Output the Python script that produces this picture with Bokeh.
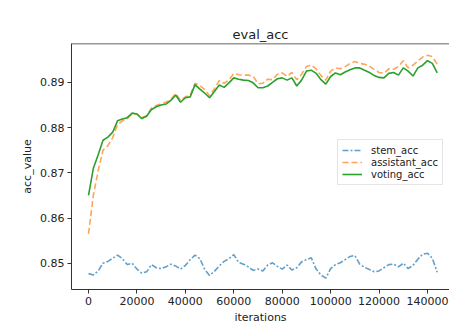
from bokeh.plotting import figure
from bokeh.models import (Range1d, FixedTicker, Legend, LegendItem, Span,
                          NumeralTickFormatter, BasicTickFormatter)
from bokeh.embed import file_html
from bokeh.resources import INLINE

iterations = [0, 2000, 4000, 6000, 8000, 10000, 12000, 14000, 16000, 18000,
              20000, 22000, 24000, 26000, 28000, 30000, 32000, 34000, 36000, 38000,
              40000, 42000, 44000, 46000, 48000, 50000, 52000, 54000, 56000, 58000,
              60000, 62000, 64000, 66000, 68000, 70000, 72000, 74000, 76000, 78000,
              80000, 82000, 84000, 86000, 88000, 90000, 92000, 94000, 96000, 98000,
              100000, 102000, 104000, 106000, 108000, 110000, 112000, 114000, 116000, 118000,
              120000, 122000, 124000, 126000, 128000, 130000, 132000, 134000, 136000, 138000,
              140000, 142000, 144000]

stem_acc = [0.8477, 0.8474, 0.8483, 0.8500, 0.8504, 0.8511, 0.8518, 0.8510, 0.8497, 0.8500,
            0.8487, 0.8478, 0.8481, 0.8497, 0.8490, 0.8488, 0.8492, 0.8498, 0.8494, 0.8487,
            0.8495, 0.8508, 0.8518, 0.8510, 0.8486, 0.8473, 0.8482, 0.8494, 0.8504, 0.8510,
            0.8519, 0.8502, 0.8498, 0.8492, 0.8484, 0.8487, 0.8483, 0.8496, 0.8501, 0.8493,
            0.8487, 0.8496, 0.8485, 0.8490, 0.8503, 0.8508, 0.8512, 0.8487, 0.8474, 0.8467,
            0.8488, 0.8497, 0.8501, 0.8508, 0.8515, 0.8517, 0.8498, 0.8491, 0.8486, 0.8481,
            0.8483, 0.8490, 0.8497, 0.8498, 0.8492, 0.8500, 0.8488, 0.8495, 0.8509, 0.8520,
            0.8522, 0.8511, 0.8480]

assistant_acc = [0.8565, 0.8650, 0.8705, 0.8750, 0.8760, 0.8778, 0.8806, 0.8815, 0.8820, 0.8830,
                 0.8830, 0.8822, 0.8826, 0.8843, 0.8849, 0.8853, 0.8856, 0.8862, 0.8875, 0.8860,
                 0.8868, 0.8872, 0.8898, 0.8893, 0.8884, 0.8870, 0.8886, 0.8904, 0.8898, 0.8905,
                 0.8920, 0.8917, 0.8916, 0.8916, 0.8914, 0.8897, 0.8898, 0.8907, 0.8906, 0.8918,
                 0.8921, 0.8913, 0.8922, 0.8906, 0.8918, 0.8935, 0.8938, 0.8930, 0.8915, 0.8905,
                 0.8925, 0.8932, 0.8930, 0.8935, 0.8942, 0.8946, 0.8942, 0.8940, 0.8936, 0.8928,
                 0.8922, 0.8920, 0.8930, 0.8929, 0.8935, 0.8948, 0.8932, 0.8938, 0.8947, 0.8956,
                 0.8960, 0.8957, 0.8940]

voting_acc = [0.8650, 0.8710, 0.8740, 0.8772, 0.8779, 0.8790, 0.8815, 0.8819, 0.8822, 0.8832,
              0.8830, 0.8820, 0.8825, 0.8840, 0.8846, 0.8850, 0.8852, 0.8860, 0.8872, 0.8856,
              0.8866, 0.8868, 0.8895, 0.8885, 0.8876, 0.8866, 0.8880, 0.8894, 0.8889, 0.8899,
              0.8910, 0.8907, 0.8905, 0.8904, 0.8899, 0.8888, 0.8888, 0.8892, 0.8900, 0.8908,
              0.8910, 0.8905, 0.8910, 0.8892, 0.8905, 0.8925, 0.8927, 0.8920, 0.8906, 0.8896,
              0.8913, 0.8921, 0.8917, 0.8923, 0.8928, 0.8932, 0.8932, 0.8927, 0.8922, 0.8915,
              0.8911, 0.8910, 0.8920, 0.8922, 0.8916, 0.8932, 0.8925, 0.8914, 0.8932, 0.8938,
              0.8948, 0.8942, 0.8921]

x_ticks = [0, 20000, 40000, 60000, 80000, 100000, 120000, 140000]
y_ticks = [0.85, 0.86, 0.87, 0.88, 0.89]
series_names = ["stem_acc", "assistant_acc", "voting_acc"]

FONT = "DejaVu Sans"
TXT = "#222222"

p = figure(width=449, height=326, output_backend="svg", toolbar_location=None,
           x_range=Range1d(-7020, 149080), y_range=Range1d(0.84419, 0.89860),
           min_border_left=71, min_border_right=0, min_border_top=43, min_border_bottom=30,
           title="eval_acc")
p.outline_line_color = None
p.background_fill_color = "white"
p.border_fill_color = "white"
p.grid.visible = False

p.title.align = "center"
p.title.text_font = FONT
p.title.text_font_size = "13px"
p.title.text_font_style = "normal"
p.title.text_color = TXT
p.title.offset = 0
p.title.standoff = 3

for ax in (p.xaxis[0], p.yaxis[0]):
    ax.axis_line_color = "#333333"
    ax.axis_line_width = 1
    ax.major_tick_line_color = "#333333"
    ax.major_tick_out = 4
    ax.major_tick_in = 0
    ax.minor_tick_line_color = None
    ax.major_label_text_font = FONT
    ax.major_label_text_font_size = "11px"
    ax.major_label_text_color = TXT
    ax.axis_label_text_font = FONT
    ax.axis_label_text_font_size = "11px"
    ax.axis_label_text_font_style = "normal"
    ax.axis_label_text_color = TXT
    ax.major_label_standoff = 3
    ax.axis_label_standoff = 3

p.xaxis.ticker = FixedTicker(ticks=x_ticks)
p.xaxis.formatter = BasicTickFormatter(use_scientific=False)
p.yaxis.ticker = FixedTicker(ticks=y_ticks)
p.yaxis.formatter = NumeralTickFormatter(format="0.00")
p.xaxis.axis_label = "iterations"
p.yaxis.axis_label = "acc_value"

top_spine = Span(location=0.89860, dimension="width", line_color="#333333", line_width=1.5)
p.add_layout(top_spine)

r1 = p.line(iterations, stem_acc, line_color="#1f77b4", line_alpha=0.7, line_width=1.6,
            line_dash="6 2 2 2")
r2 = p.line(iterations, assistant_acc, line_color="#ff7f0e", line_alpha=0.7, line_width=1.6,
            line_dash="6 3")
r3 = p.line(iterations, voting_acc, line_color="#2ca02c", line_width=1.6)

legend = Legend(items=[LegendItem(label=series_names[0], renderers=[r1]),
                       LegendItem(label=series_names[1], renderers=[r2]),
                       LegendItem(label=series_names[2], renderers=[r3])],
                location=(266, 104))
legend.label_text_font = FONT
legend.label_text_font_size = "10px"
legend.label_text_color = TXT
legend.label_height = 12
legend.glyph_height = 12
legend.glyph_width = 20
legend.label_standoff = 9
legend.spacing = 0
legend.padding = 4
legend.margin = 0
legend.border_line_color = "#cccccc"
legend.border_line_width = 1
legend.background_fill_alpha = 0.8
p.add_layout(legend, "center")

open("out.html", "w").write(file_html(p, INLINE))
